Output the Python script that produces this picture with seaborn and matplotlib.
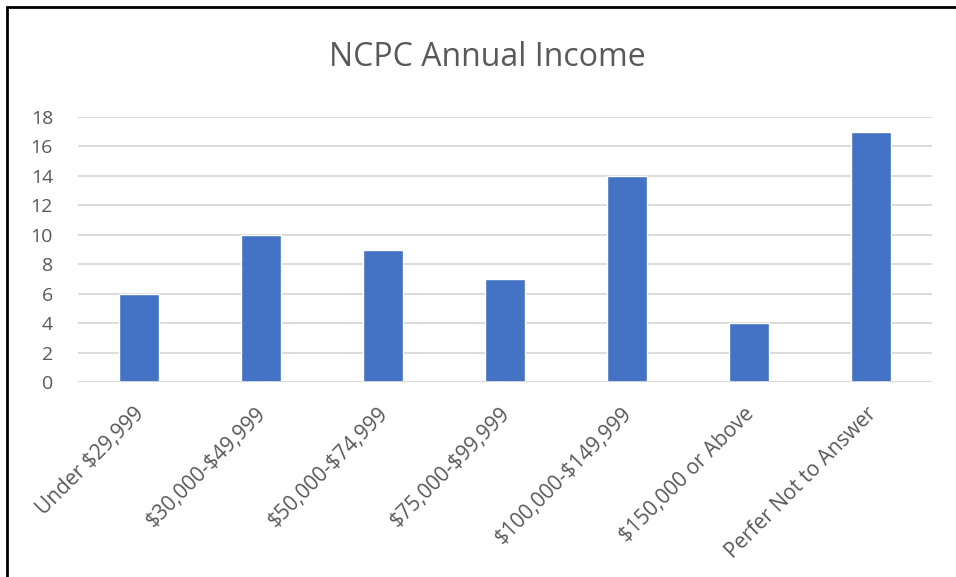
import matplotlib
matplotlib.use("Agg")
import matplotlib.pyplot as plt
import matplotlib.transforms as mtransforms
import seaborn as sns
import pandas as pd
from matplotlib.lines import Line2D

categories = [
    "Under $29,999",
    "$30,000-$49,999",
    "$50,000-$74,999",
    "$75,000-$99,999",
    "$100,000-$149,999",
    "$150,000 or Above",
    "Perfer Not to Answer",
]
counts = [6, 10, 9, 7, 14, 4, 17]
y_ticks = [0, 2, 4, 6, 8, 10, 12, 14, 16, 18]

df = pd.DataFrame({"income": categories, "count": counts})

sns.set_theme(style="white")
plt.rcParams["font.family"] = ["Open Sans", "DejaVu Sans"]
plt.rcParams["text.parse_math"] = False

text_color = "#595959"
grid_color = "#D9D9D9"
bar_color = "#4472C4"

fig = plt.figure(figsize=(9.56, 5.77), dpi=100)
ax = fig.add_axes([78 / 956, 1 - 382 / 577, (932 - 78) / 956, (382 - 117) / 577])

sns.barplot(data=df, x="income", y="count", color=bar_color, width=0.32,
            saturation=1, ax=ax, zorder=3)

ax.set_xlim(-0.5, len(categories) - 0.5)
ax.set_ylim(0, 18)
ax.set_yticks(y_ticks)
ax.set_yticklabels([str(v) for v in y_ticks], fontsize=14, color=text_color)
ax.yaxis.grid(True, color=grid_color, linewidth=1.3, zorder=0)
ax.tick_params(axis="y", length=0, pad=18)
ax.tick_params(axis="x", length=0, pad=15.5)
ax.set_xticks(range(len(categories)))
ax.set_xticklabels(categories, rotation=45, ha="right", rotation_mode="anchor",
                   fontsize=15, color=text_color)
shift = mtransforms.ScaledTranslation(-5 / 100, 0, fig.dpi_scale_trans)
for lbl in ax.get_xticklabels():
    lbl.set_transform(lbl.get_transform() + shift)
ax.set_xlabel("")
ax.set_ylabel("")
for s in ax.spines.values():
    s.set_visible(False)
ax.axhline(0, color=grid_color, linewidth=1.3, zorder=4)

fig.text(487 / 956, 1 - 57 / 577, "NCPC Annual Income", ha="center", va="center",
         fontsize=23, color=text_color)

# outer frame on the left and top edges
fig.add_artist(Line2D([7 / 956, 7 / 956], [0, 1 - 7 / 577], transform=fig.transFigure,
                      color="black", linewidth=2))
fig.add_artist(Line2D([7 / 956, 1], [1 - 7 / 577, 1 - 7 / 577], transform=fig.transFigure,
                      color="black", linewidth=2))

fig.savefig("out.png", dpi=100, facecolor="white")
